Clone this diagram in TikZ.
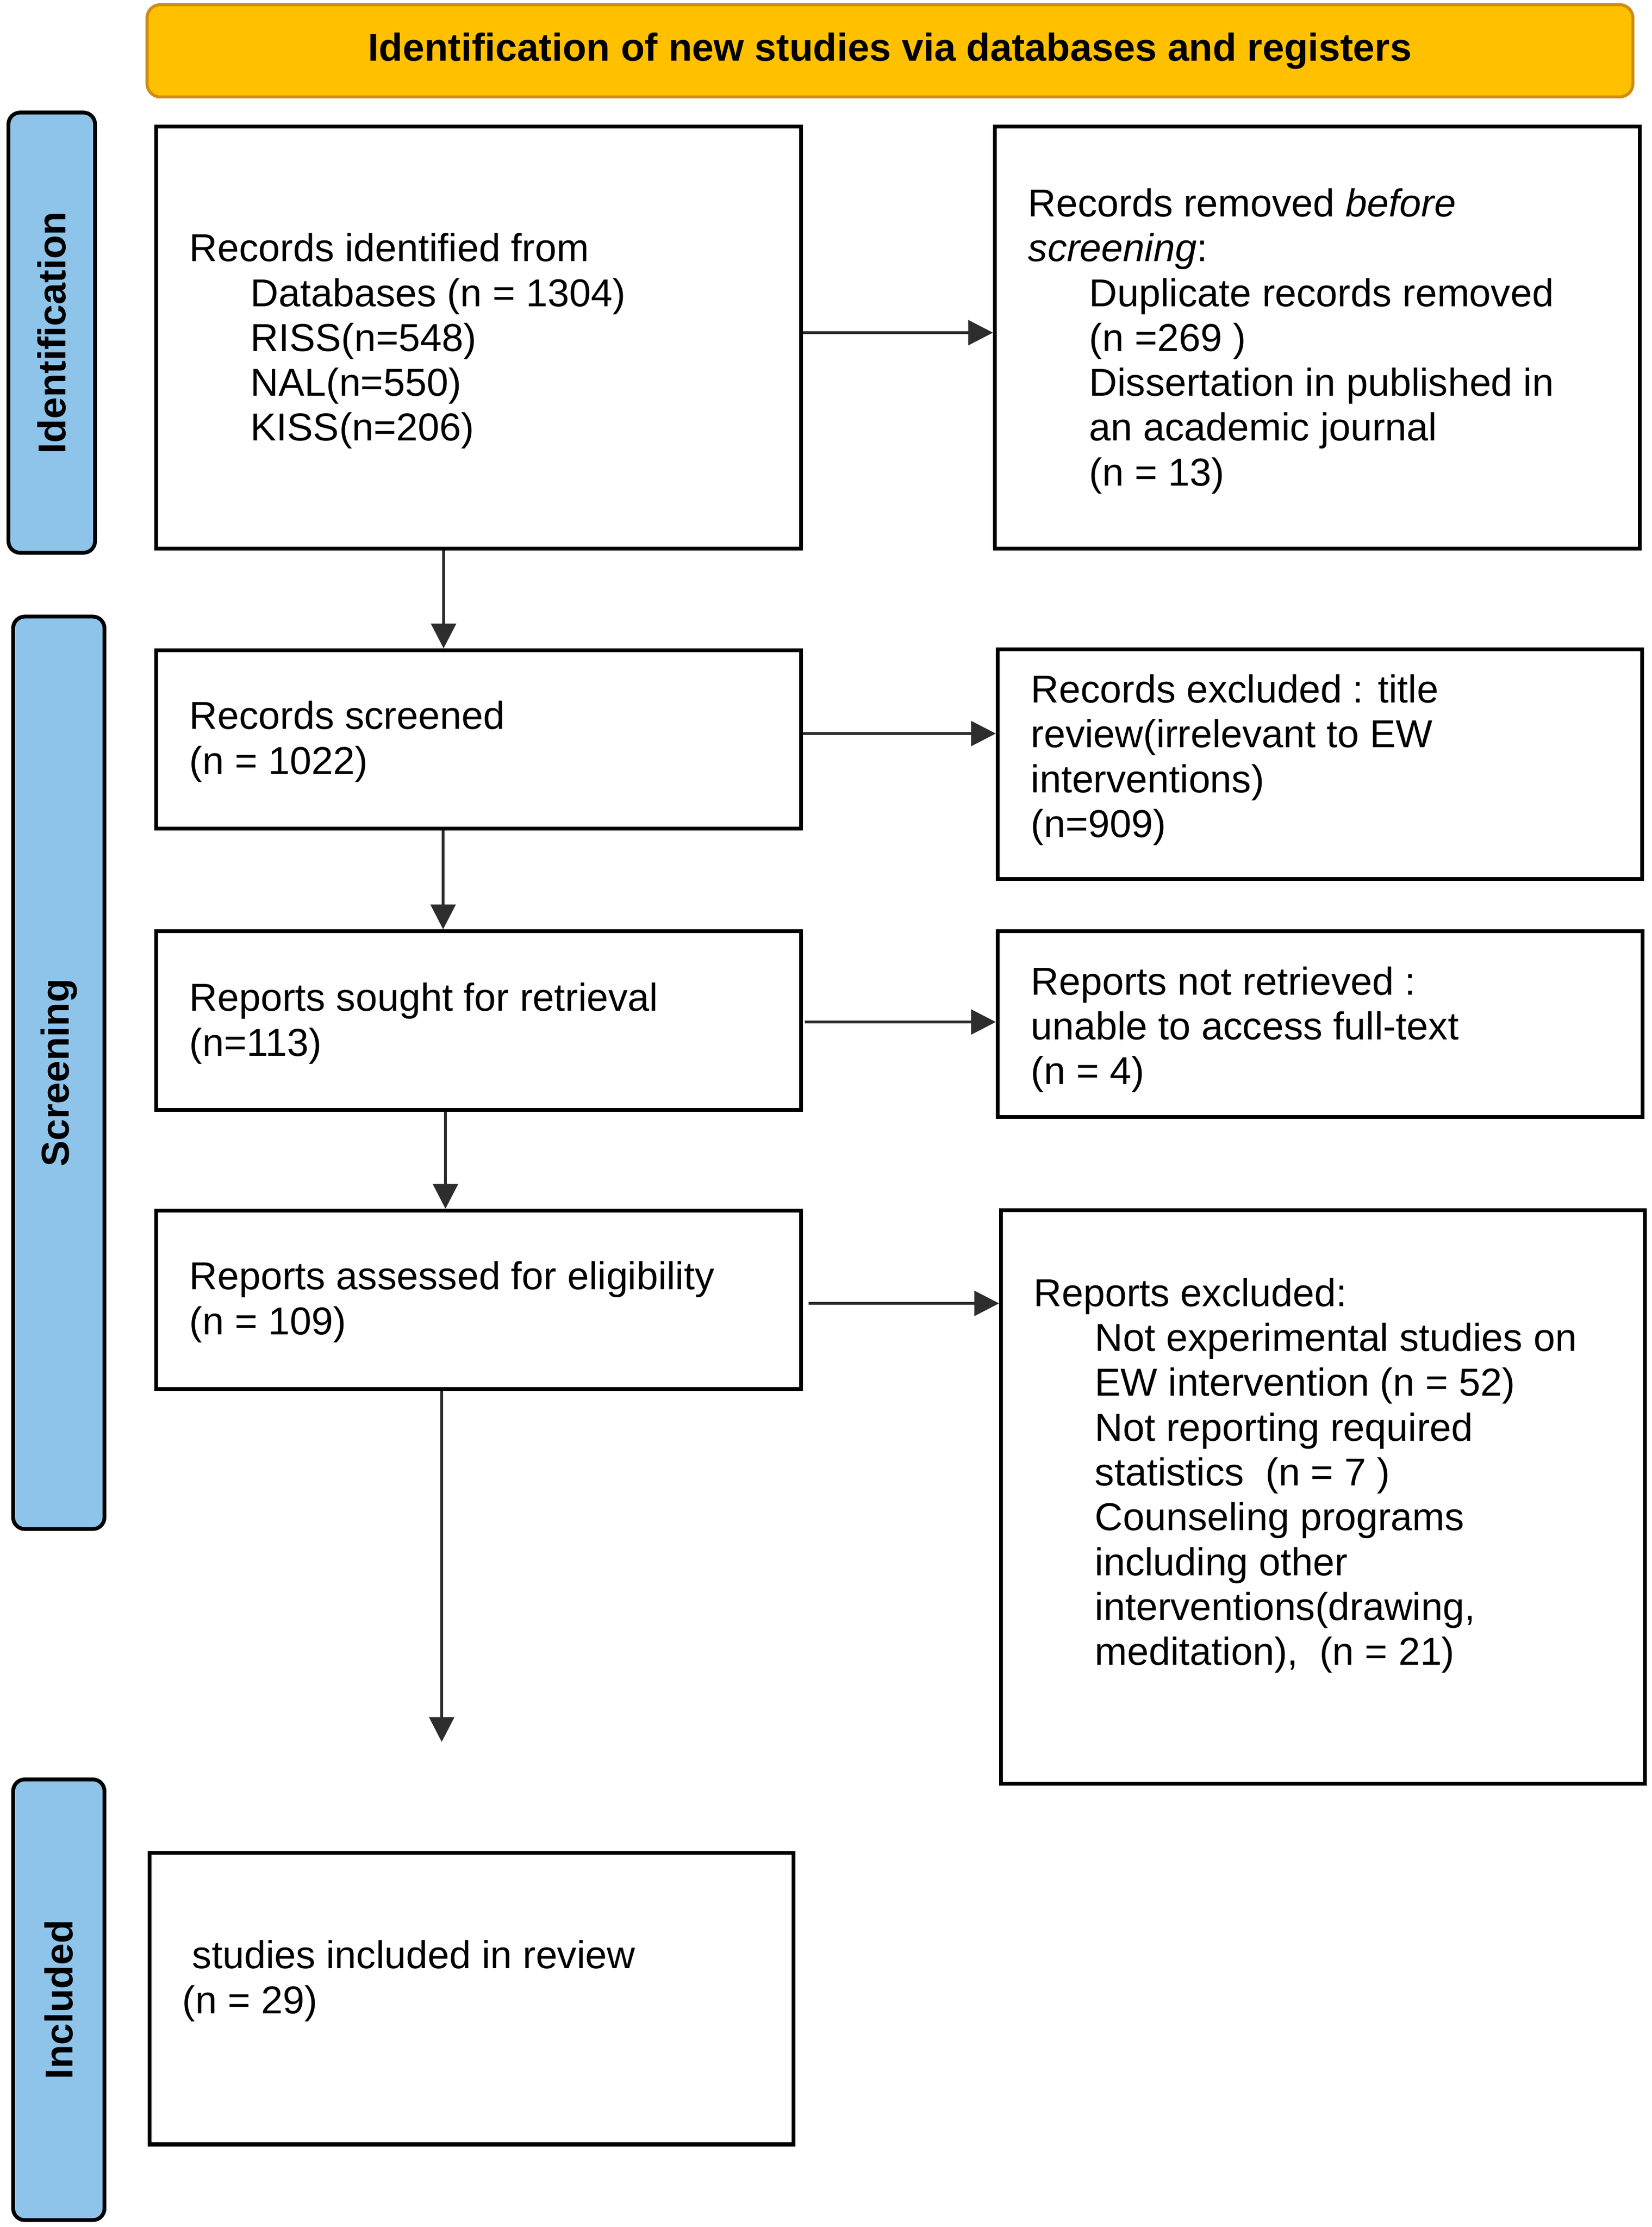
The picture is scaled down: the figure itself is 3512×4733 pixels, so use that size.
\documentclass[tikz,border=0pt]{standalone}
\usepackage{fontspec}
\setmainfont{Liberation Sans}
\usetikzlibrary{arrows.meta}
\definecolor{hdrfill}{RGB}{255,192,0}
\definecolor{hdrdraw}{RGB}{205,140,20}
\definecolor{sidefill}{RGB}{142,196,234}
\definecolor{arrowcol}{RGB}{45,45,45}
\newcommand{\ind}{\hspace*{1.3cm}}
\begin{document}
\begin{tikzpicture}[x=0.01cm,y=-0.01cm,
  every node/.style={font=\fontsize{23.5}{27.1}\selectfont},
  box/.style={draw=black, line width=2.3pt, fill=white, inner sep=0pt, anchor=north west},
  txt/.style={anchor=west, align=left, inner sep=0pt},
  side/.style={draw=black, line width=2.3pt, fill=sidefill, rounded corners=7pt, inner sep=0pt, rotate=90, font=\fontsize{23.5}{27.1}\selectfont\bfseries},
  hdr/.style={draw=hdrdraw, line width=1.8pt, fill=hdrfill, rounded corners=8pt, inner sep=0pt, font=\fontsize{23.5}{27.1}\selectfont\bfseries},
  arr/.style={draw=arrowcol, line width=1.7pt, -{Triangle[length=15pt,width=15pt]}}]
\useasboundingbox (0,0) rectangle (3512,4733);

% header
\node[hdr, minimum width=31.57cm, minimum height=1.96cm] (hdr) at (1892,108) {Identification of new studies via databases and registers};

% side bars
\node[side, minimum width=9.35cm, minimum height=1.84cm] (sid) at (110,707) {Identification};
\node[side, minimum width=19.38cm, minimum height=1.94cm] (sscr) at (125,2280) {Screening};
\node[side, minimum width=9.36cm, minimum height=1.94cm] (sinc) at (125,4250) {Included};

% boxes
\node[box, minimum width=13.70cm, minimum height=8.96cm] (b1) at (328,265) {};
\node[box, minimum width=13.70cm, minimum height=8.96cm] (b2) at (2111,265) {};
\node[box, minimum width=13.70cm, minimum height=3.79cm] (b3) at (328,1378) {};
\node[box, minimum width=13.69cm, minimum height=4.88cm] (b4) at (2117,1376) {};
\node[box, minimum width=13.70cm, minimum height=3.80cm] (b5) at (328,1975) {};
\node[box, minimum width=13.70cm, minimum height=3.95cm] (b6) at (2117,1975) {};
\node[box, minimum width=13.70cm, minimum height=3.79cm] (b7) at (328,2569) {};
\node[box, minimum width=13.68cm, minimum height=12.18cm] (b8) at (2124,2568) {};
\node[box, minimum width=13.68cm, minimum height=6.19cm] (b9) at (314,3934) {};

% texts
\node[txt] (t1) at (402,725) {Records identified from\\\ind Databases (n = 1304)\\\ind RISS(n=548)\\\ind NAL(n=550)\\\ind KISS(n=206)};
\node[txt] (t2) at (2185,725) {Records removed \textit{before}\\\textit{screening}:\\\ind Duplicate records removed\\\ind (n =269 )\\\ind Dissertation in published in\\\ind an academic journal\\\ind (n = 13)};
\node[txt] (t3) at (402,1576) {Records screened\\(n = 1022)};
\node[txt] (t4) at (2191,1615) {Records excluded : title\\review(irrelevant to EW\\interventions)\\(n=909)};
\node[txt] (t5) at (402,2175) {Reports sought for retrieval\\(n=113)};
\node[txt] (t6) at (2191,2188) {Reports not retrieved :\\unable to access full-text\\(n = 4)};
\node[txt] (t7) at (402,2767) {Reports assessed for eligibility\\(n = 109)};
\node[txt] (t8) at (2197,3136) {Reports excluded:\\\ind Not experimental studies on\\\ind EW intervention (n = 52)\\\ind Not reporting required\\\ind statistics~~(n = 7 )\\\ind Counseling programs\\\ind including other\\\ind interventions(drawing,\\\ind meditation),~~(n = 21)};
\node[txt] (t9) at (387,4210) {\hspace*{6pt}studies included in review\\(n = 29)};

% connector guides
\coordinate (v1) at (943,0);
\coordinate (v2) at (942,0);
\coordinate (v3) at (947,0);
\coordinate (v4) at (939,0);
\coordinate (vend) at (939,3702);
\coordinate (h1) at (0,707);
\coordinate (h2) at (0,1559);
\coordinate (h3) at (0,2172);
\coordinate (h4) at (0,2770);

% vertical arrows
\draw[arr] (b1.south -| v1) -- (b3.north -| v1);
\draw[arr] (b3.south -| v2) -- (b5.north -| v2);
\draw[arr] (b5.south -| v3) -- (b7.north -| v3);
\draw[arr] (b7.south -| v4) -- (vend);

% horizontal arrows
\draw[arr] (b1.east |- h1) -- (b2.west |- h1);
\draw[arr] (b3.east |- h2) -- (b4.west |- h2);
\draw[arr] (b5.east |- h3) ++(4,0) -- (b6.west |- h3);
\draw[arr] (b7.east |- h4) ++(12,0) -- (b8.west |- h4);
\end{tikzpicture}
\end{document}
